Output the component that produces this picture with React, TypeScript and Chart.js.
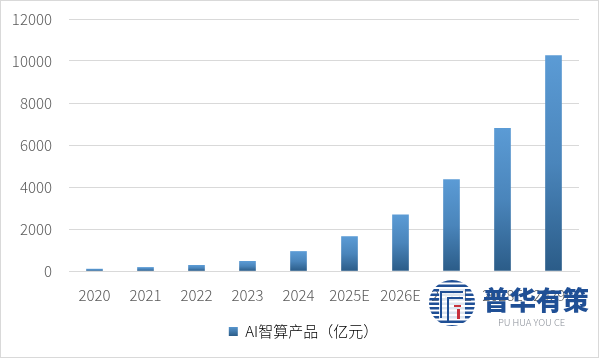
import React, { useEffect, useRef } from "react";
import { Chart, registerables } from "chart.js";

Chart.register(...registerables);

const categories = ["2020", "2021", "2022", "2023", "2024", "2025E", "2026E", "2027E", "2028E", "2029E"];
const values = [90, 170, 270, 460, 930, 1640, 2680, 4350, 6790, 10260];
const seriesName = "AI智算产品（亿元）";
const FONT = '"Noto Sans CJK SC", "Noto Sans", sans-serif';

const barFill = (ctx: any) => {
  const { chart, parsed } = ctx;
  const y = chart.scales.y;
  if (!parsed || !y) return "#3f7cb5";
  const g = chart.ctx.createLinearGradient(0, y.getPixelForValue(parsed.y), 0, y.getPixelForValue(0));
  g.addColorStop(0, "#5b9bd5");
  g.addColorStop(0.5, "#4a85bb");
  g.addColorStop(1, "#2b5c88");
  return g;
};

const frame = {
  id: "frame",
  beforeDraw(chart: any) {
    const { ctx, width, height } = chart;
    chart.scales.y.left = 0;
    ctx.save();
    ctx.fillStyle = "#fff";
    ctx.fillRect(0, 0, width, height);
    ctx.strokeStyle = "#d9d9d9";
    ctx.lineWidth = 1;
    ctx.strokeRect(0.5, 0.5, width - 1, height - 1);
    ctx.restore();
  },
};

const watermark = {
  id: "watermark",
  afterDraw(chart: any) {
    const { ctx } = chart;
    ctx.save();
    const cx = 452, cy = 303, r = 23;
    ctx.save();
    ctx.beginPath();
    ctx.arc(cx, cy, r, 0, Math.PI * 2);
    ctx.clip();
    ctx.fillStyle = "#1f4f95";
    for (let y = cy - r; y < cy + r; y += 4.5) ctx.fillRect(cx - r, y, r * 2, 2.5);
    ctx.restore();
    ctx.fillStyle = "rgba(255,255,255,0.85)";
    ctx.fillRect(cx - 13, cy - 14, 26, 30);
    ctx.strokeStyle = "#1f4f95";
    ctx.lineWidth = 2;
    ctx.beginPath();
    ctx.moveTo(cx - 11, cy + 15);
    ctx.lineTo(cx - 11, cy - 11);
    ctx.lineTo(cx + 11, cy - 11);
    ctx.moveTo(cx - 4, cy + 18);
    ctx.lineTo(cx - 4, cy - 5);
    ctx.lineTo(cx + 11, cy - 5);
    ctx.stroke();
    ctx.fillStyle = "#c8323c";
    ctx.fillRect(cx + 2, cy + 2, 7, 2);
    ctx.fillRect(cx + 5, cy + 6, 3, 10);
    ctx.fillStyle = "#1f4f95";
    ctx.font = `900 26.5px ${FONT}`;
    ctx.textBaseline = "middle";
    ctx.textAlign = "left";
    ctx.fillText("普华有策", 483, 300);
    ctx.fillStyle = "#8a8f98";
    ctx.font = `300 9.5px ${FONT}`;
    ctx.fillText("PU HUA YOU CE", 498, 322);
    ctx.restore();
  },
};

export default function App() {
  const ref = useRef<HTMLCanvasElement>(null);
  useEffect(() => {
    document.body.style.margin = "0";
    const chart = new Chart(ref.current!, {
      type: "bar",
      data: {
        labels: categories,
        datasets: [{ label: seriesName, data: values, backgroundColor: barFill, barThickness: 16 }],
      },
      plugins: [frame, watermark],
      options: {
        responsive: false,
        animation: false,
        layout: { padding: { top: 19, right: 20, bottom: 9, left: 28 } },
        plugins: {
          tooltip: { enabled: false },
          legend: {
            position: "bottom",
            labels: {
              boxWidth: 9,
              boxHeight: 9,
              padding: 5,
              color: "#595959",
              font: { family: FONT, size: 15, weight: "300" },
              generateLabels: (c: any) => {
                const g = c.ctx.createLinearGradient(0, 326, 0, 336);
                g.addColorStop(0, "#5b9bd5");
                g.addColorStop(1, "#2b5c88");
                return [{ text: seriesName, fillStyle: g, strokeStyle: "transparent", lineWidth: 0, datasetIndex: 0 }];
              },
            },
          },
        },
        scales: {
          x: {
            afterFit: (s: any) => { s.height = 48; s.paddingLeft = 0; s.paddingRight = 0; },
            grid: { display: false, drawTicks: false },
            border: { color: "#d9d9d9" },
            ticks: { color: "#595959", padding: 15, maxRotation: 0, autoSkip: false, font: { family: FONT, size: 15, weight: "300" } },
          },
          y: {
            min: 0,
            max: 12000,
            afterFit: (s: any) => { s.width = 41; s.paddingTop = 0; s.paddingBottom = 0; },
            grid: { color: "#d9d9d9", drawTicks: false },
            border: { display: false },
            ticks: { stepSize: 2000, color: "#595959", padding: 17, callback: (v: any) => String(v), font: { family: FONT, size: 15, weight: "300" } },
          },
        },
      },
    });
    return () => chart.destroy();
  }, []);
  return <canvas ref={ref} width={599} height={358} style={{ display: "block" }} />;
}
